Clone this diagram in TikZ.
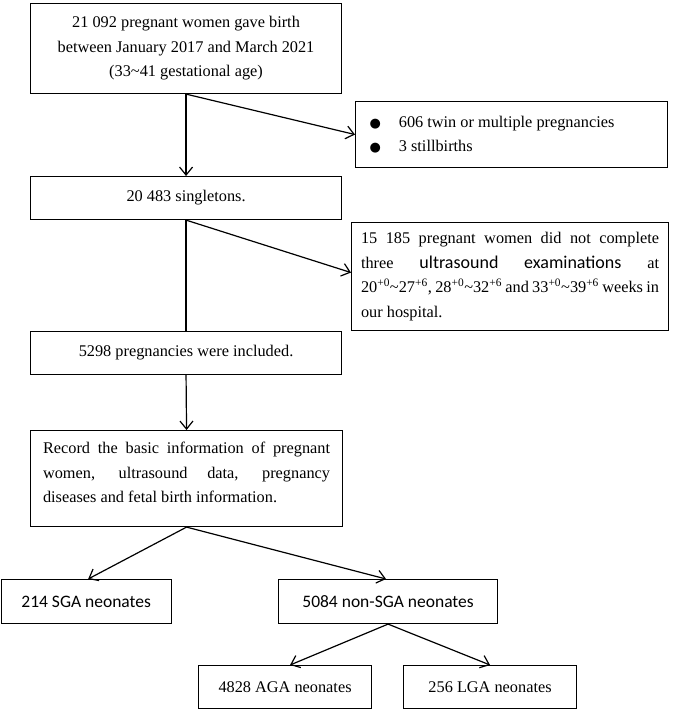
\documentclass[tikz,border=0pt]{standalone}
\usepackage{fontspec}
\setmainfont{Liberation Serif}
\newfontfamily\calib{Carlito}
\newfontfamily\dejavu{DejaVu Sans}
\usetikzlibrary{arrows.meta}
\newcommand{\mybul}{{\dejavu\fontsize{13}{13}\selectfont ●}}
\newcommand{\tl}{\textasciitilde}
\newcommand{\sps}[1]{\textsuperscript{#1}}
\begin{document}
\begin{tikzpicture}[x=1pt,y=-1pt,
  box/.style={draw, line width=1.1pt, inner sep=0pt, anchor=north west, align=center,
    font=\fontsize{16.3}{24.5}\selectfont},
  arr/.style={line width=1.2pt, -{Straight Barb[length=8pt,width=13pt,line width=1.2pt]}},
  ln/.style={line width=1.2pt}]
\useasboundingbox (0,0) rectangle (685,710);

\node[box, minimum width=311pt, minimum height=90pt] (b1) at (30,3)
  {21 092 pregnant women gave birth\\between January 2017 and March 2021\\(33\tl41 gestational age)};

\node[box, minimum width=312pt, minimum height=66pt] (b2) at (355,101)
  {\parbox{284pt}{\mybul\hspace{18pt}606 twin or multiple pregnancies\\[0pt]
   \mybul\hspace{18pt}3 stillbirths}};

\node[box, minimum width=311pt, minimum height=43pt] (b3) at (30,176)
  {20 483 singletons.};

\node[box, minimum width=317pt, minimum height=108pt] (b4) at (351,222)
  {\parbox{298pt}{\makebox[\linewidth][s]{15 185 pregnant women did not complete}\\
   \makebox[\linewidth][s]{three {\calib\fontsize{18}{18}\selectfont ultrasound examinations} at}\\
   \makebox[\linewidth][s]{20\sps{+0}\tl27\sps{+6}, 28\sps{+0}\tl32\sps{+6} and 33\sps{+0}\tl39\sps{+6} weeks in}\\
   our hospital.}};

\node[box, minimum width=311pt, minimum height=43pt] (b5) at (30,331)
  {5298 pregnancies were included.};

\node[box, minimum width=312pt, minimum height=96pt] (b6) at (30,430)
  {\parbox[c][96pt][t]{287pt}{\makebox[\linewidth][s]{\rule{0pt}{23pt}Record the basic information of pregnant}\\
   \makebox[\linewidth][s]{women, ultrasound data, pregnancy}\\
   diseases and fetal birth information.}};

\node[box, minimum width=170pt, minimum height=44pt, font=\calib\fontsize{17.5}{20}\selectfont] (b7) at (0.6,579)
  {214 SGA neonates};
\node[box, minimum width=219pt, minimum height=44pt, font=\calib\fontsize{17.5}{20}\selectfont] (b8) at (278,579)
  {5084 non-SGA neonates};

\node[box, minimum width=173pt, minimum height=43pt] (b9) at (198,665)
  {4828 AGA neonates};
\node[box, minimum width=173pt, minimum height=43pt] (b10) at (403,665)
  {256 LGA neonates};

\draw[arr] (b1.south) -- (b3.north);
\draw[arr] (b1.south) -- (b2.west);
\draw[ln] (b3.south) -- (b5.north);
\draw[arr] (b3.south) -- ([yshift=4pt]b4.west);
\draw[arr] (b5.south) -- (b6.north);
\draw[arr] (b6.south) -- ([xshift=2pt]b7.north);
\draw[arr] (b6.south) -- ([xshift=-2pt]b8.north);
\draw[arr] (b8.south) -- ([xshift=5pt]b9.north);
\draw[arr] (b8.south) -- (b10.north);
\end{tikzpicture}
\end{document}
